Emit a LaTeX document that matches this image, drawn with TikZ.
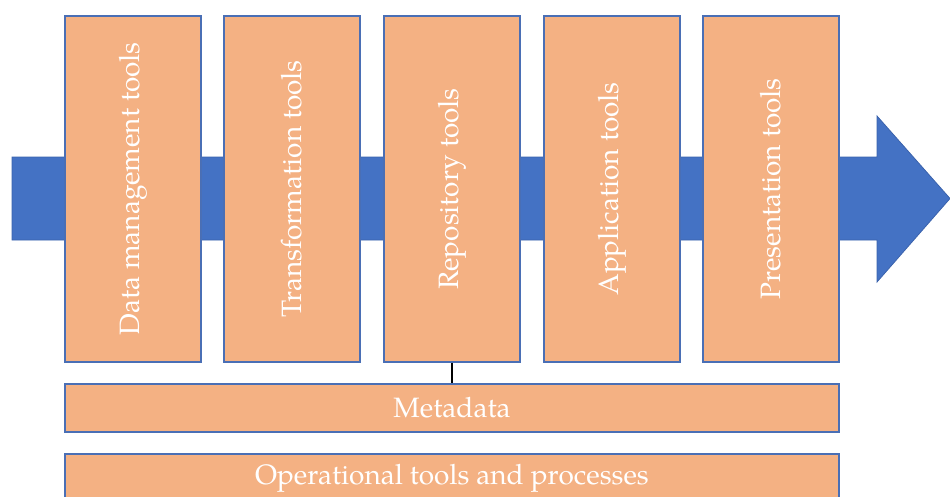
\documentclass[tikz,border=0pt]{standalone}
\usepackage{fontspec}
\setmainfont{texgyrepagella}[Extension=.otf,UprightFont=*-regular]
\definecolor{toolfill}{HTML}{F4B183}
\definecolor{tooledge}{HTML}{4A6FB5}
\definecolor{flowblue}{HTML}{4472C4}
\definecolor{flowedge}{HTML}{3A62AC}
\begin{document}
\begin{tikzpicture}[x=1pt,y=-1pt,
  toolbox/.style={draw=tooledge,line width=1.2pt,fill=toolfill,minimum width=136pt,
    minimum height=346pt,inner sep=0pt,text=white,font=\fontsize{28}{32}\selectfont},
  layerbox/.style={draw=tooledge,line width=1.2pt,fill=toolfill,minimum width=774pt,
    minimum height=48pt,inner sep=0pt,text=white,font=\fontsize{28}{32}\selectfont},
  link/.style={draw=black,line width=2.4pt}]
\clip (0,0) rectangle (950,496);
% wide process arrow running behind the tool columns
\fill[flowblue,draw=flowedge,line width=0.8pt]
  (12,157) -- (877,157) -- (877,116) -- (950,198.5) -- (877,282) -- (877,240) -- (12,240) -- cycle;
% tool columns
\node[toolbox] (dm)   at (133,189) {\rotatebox{90}{Data management tools}};
\node[toolbox] (tr)   at (292,189) {\rotatebox{90}{Transformation tools}};
\node[toolbox] (repo) at (452,189) {\rotatebox{90}{Repository tools}};
\node[toolbox] (app)  at (612,189) {\rotatebox{90}{Application tools}};
\node[toolbox] (pres) at (771,189) {\rotatebox{90}{Presentation tools}};
% horizontal layers
\node[layerbox] (meta) at (452,408) {Metadata};
\node[layerbox] (ops)  at (452,478) {Operational tools and processes};
\draw[link] (repo.south) -- (meta.north);
\end{tikzpicture}
\end{document}
